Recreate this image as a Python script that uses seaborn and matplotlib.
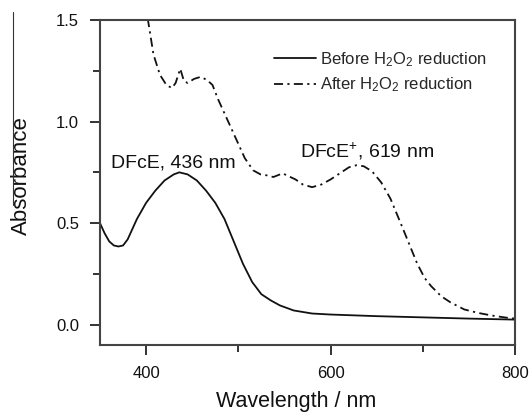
import matplotlib
matplotlib.use("Agg")
import matplotlib.pyplot as plt
from matplotlib.lines import Line2D
from matplotlib.ticker import MultipleLocator
import seaborn as sns
import pandas as pd

# UV-vis spectra of DFcE before and after H2O2 reduction
wl_before = [350, 355, 360, 365, 370, 375, 380, 390, 400, 410, 420, 430, 436,
             445, 455, 465, 475, 485, 495, 505, 515, 525, 535, 545, 560, 580,
             600, 650, 700, 750, 800]
abs_before = [0.50, 0.45, 0.41, 0.39, 0.385, 0.39, 0.42, 0.52, 0.60, 0.66, 0.71,
              0.74, 0.75, 0.74, 0.71, 0.66, 0.60, 0.52, 0.41, 0.30, 0.21, 0.15,
              0.12, 0.095, 0.07, 0.055, 0.05, 0.042, 0.036, 0.03, 0.025]

wl_after = [395, 402, 408, 415, 422, 428, 432, 437, 441, 445, 452, 459, 466, 472,
            478, 485, 491, 499, 507, 516, 524, 531, 538, 548, 555, 562, 570, 580,
            590, 600, 610, 620, 628, 636, 645, 655, 665, 676, 685, 694, 702, 709,
            720, 730, 745, 760, 775, 790, 800]
abs_after = [1.62, 1.50, 1.33, 1.23, 1.18, 1.165, 1.19, 1.26, 1.20, 1.19, 1.21,
             1.22, 1.205, 1.18, 1.11, 1.04, 0.98, 0.90, 0.82, 0.76, 0.74, 0.735,
             0.727, 0.745, 0.73, 0.715, 0.69, 0.677, 0.69, 0.715, 0.745, 0.775,
             0.785, 0.78, 0.755, 0.70, 0.62, 0.50, 0.40, 0.30, 0.23, 0.19, 0.14,
             0.11, 0.075, 0.058, 0.045, 0.035, 0.03]

series_labels = ["Before H$_2$O$_2$ reduction", "After H$_2$O$_2$ reduction"]
peak_labels = ["DFcE, 436 nm", "DFcE$^{+}$, 619 nm"]
x_ticks = [400, 600, 800]
y_ticks = [0.0, 0.5, 1.0, 1.5]

sns.set_theme(style="ticks")
plt.rcParams["font.family"] = ["Liberation Sans", "DejaVu Sans"]
plt.rcParams["mathtext.fontset"] = "custom"
plt.rcParams["mathtext.rm"] = "Liberation Sans"
plt.rcParams["mathtext.it"] = "Liberation Sans:italic"

df_before = pd.DataFrame({"wl": wl_before, "A": abs_before})
df_after = pd.DataFrame({"wl": wl_after, "A": abs_after})

fig = plt.figure(figsize=(5.31, 4.15), dpi=100)
ax = fig.add_axes([100 / 531, 1 - 345 / 415, 415 / 531, 325 / 415])

ink = "#111111"
sns.lineplot(data=df_before, x="wl", y="A", ax=ax, color=ink, lw=1.3,
             label=series_labels[0])
sns.lineplot(data=df_after, x="wl", y="A", ax=ax, color=ink, lw=1.3,
             label=series_labels[1])
ax.lines[1].set_dashes((5, 2.4, 1.2, 2.4))

ax.set_xlim(350, 800)
ax.set_ylim(-0.1, 1.5)
ax.set_xticks(x_ticks)
ax.set_yticks(y_ticks)
ax.set_yticklabels([f"{v:.1f}" for v in y_ticks])
ax.xaxis.set_minor_locator(MultipleLocator(100))
ax.yaxis.set_minor_locator(MultipleLocator(0.25))
ax.tick_params(which="both", direction="out", length=7, width=1.4,
               color="#333333", labelsize=12, labelcolor=ink)
ax.tick_params(which="minor", length=5)
ax.tick_params(axis="x", which="major", pad=8)
ax.tick_params(axis="y", which="major", pad=8)
for s in ax.spines.values():
    s.set_color("#444444")
    s.set_linewidth(1.5)

ax.set_xlabel("Wavelength / nm", fontsize=15.5, color=ink)
ax.xaxis.set_label_coords(0.472, -0.143)
ax.set_ylabel("Absorbance", fontsize=16, color=ink)
ax.yaxis.set_label_coords(-0.165, 0.52)

ax.text(430, 0.775, peak_labels[0], fontsize=14, ha="center", va="baseline",
        color=ink)
ax.text(639, 0.825, peak_labels[1], fontsize=14, ha="center", va="baseline",
        color=ink)

leg = ax.legend(loc="upper right", frameon=False, fontsize=12,
                handlelength=2.5, handletextpad=0.25, labelspacing=0.4,
                bbox_to_anchor=(0.948, 0.928), borderaxespad=0.0)
for h in leg.get_lines():
    h.set_linewidth(1.3)

fig.add_artist(Line2D([13 / 531, 13 / 531], [1 - 12 / 415, 1 - 205 / 415],
                      color="#333333", lw=0.8))

fig.savefig("out.png", dpi=100)
